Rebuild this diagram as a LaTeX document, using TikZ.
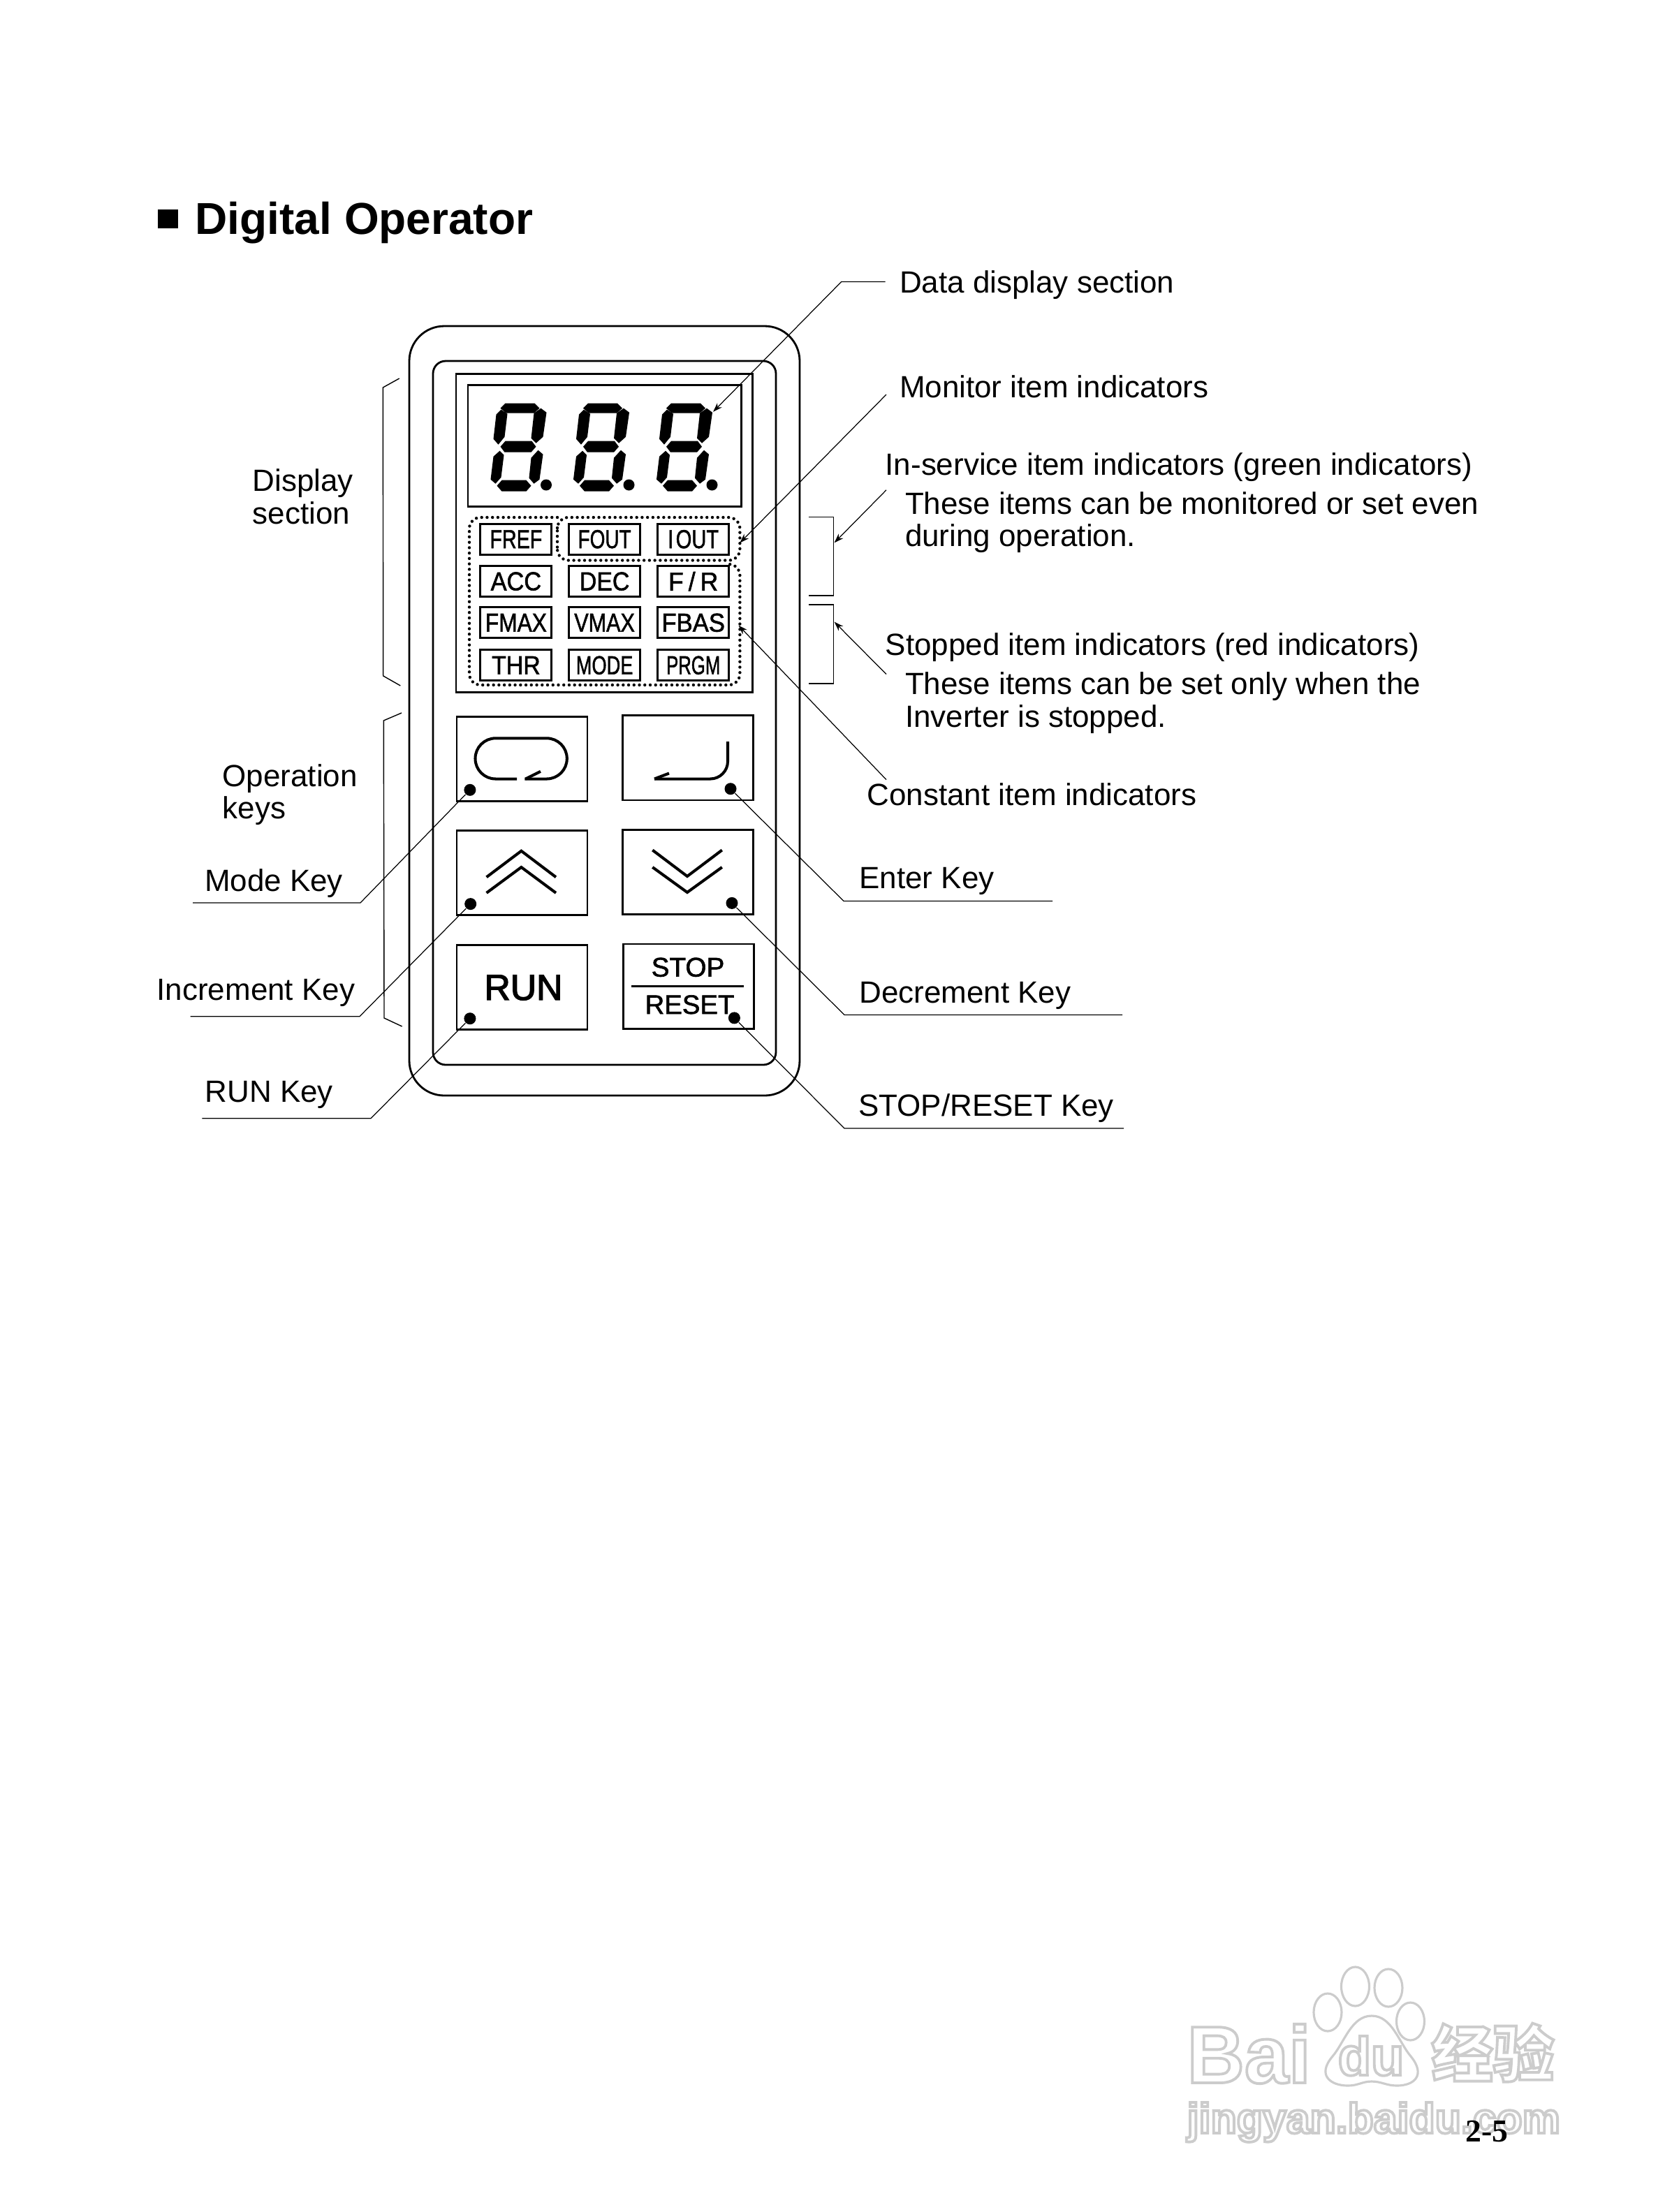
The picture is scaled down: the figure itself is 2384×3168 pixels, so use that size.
\documentclass[tikz,border=0pt]{standalone}
\usepackage{fontspec}
\usepackage{graphicx}
\usetikzlibrary{arrows.meta}
\setmainfont{Liberation Sans}
\newfontfamily\pagefont{Liberation Serif}
\newfontfamily\cjkfont{Noto Sans CJK SC}
\newfontfamily\keyfont[FakeBold=1.6]{Liberation Sans}
\newfontfamily\runfont[FakeBold=2.6]{Liberation Sans}
\newcommand{\narrow}[2]{\scalebox{#1}[1]{#2}}
\newcommand{\hollow}[1]{\special{pdf:code 1 Tr 0.8 G 1.1 w}#1\special{pdf:code 0 Tr 0 G 1 w}}
\tikzset{
	lbl/.style={anchor=base west,inner sep=0pt,align=left,xshift=-.02cm,font=\fontsize{12.5}{13.2}\selectfont},
	leader/.style={line width=.35pt},
	bracket/.style={line width=.4pt},
	body/.style={line width=.8pt},
	indbox/.style={draw,line width=.85pt,inner sep=0pt,minimum width=1.02cm,minimum height=.44cm,font=\keyfont\fontsize{10.6}{11}\selectfont},
	indzone/.style={line width=1.25pt,line cap=round,dash pattern=on 0pt off 2.2pt},
	keybox/.style={draw,line width=.8pt,inner sep=0pt,minimum width=1.87cm,minimum height=1.21cm},
	keydot/.style={circle,fill,inner sep=0pt,minimum size=.17cm},
	keymark/.style={line width=1.15pt},
	wmtext/.style={inner sep=0pt,anchor=base west},
	wmpaw/.style={draw=black!20,line width=.9pt},
}
\begin{document}
\begin{tikzpicture}[x=.01cm,y=-.01cm,>={Stealth[length=3.8pt,width=2.6pt]}]
	\useasboundingbox(0,0)rectangle(2384,3168);
	\fill[white](0,0)rectangle(2384,3168);
	\node[wmtext,font=\bfseries\fontsize{33}{33}\selectfont](wmbai)at(1699,2983){\hollow{\narrow{.98}{Bai}}};
	\draw[wmpaw](1901,2882)ellipse[x radius=20,y radius=27];
	\draw[wmpaw](1940.5,2845)ellipse[x radius=20,y radius=28];
	\draw[wmpaw](1988,2847)ellipse[x radius=20,y radius=27];
	\draw[wmpaw](2019.5,2895)ellipse[x radius=20,y radius=27];
	\draw[wmpaw](1964,2887)..controls(1935,2887)and(1925,2925)..(1908,2945)..controls(1885,2972)and(1905,2987)..(1930,2987)..controls(1945,2987)and(1950,2981)..(1964,2981)..controls(1978,2981)and(1985,2987)..(2000,2987)..controls(2025,2987)and(2042,2972)..(2020,2945)..controls(2003,2925)and(1993,2887)..(1964,2887);
	\node[wmtext,font=\bfseries\fontsize{22}{22}\selectfont](wmdu)at(1915,2972){\hollow{du}};
	\node[wmtext,font=\cjkfont\bfseries\fontsize{25}{25}\selectfont](wmcn)at(2049,2974){\hollow{经验}};
	\node[wmtext,font=\bfseries\fontsize{17.3}{18}\selectfont](wmurl)at(1699,3055){\hollow{jingyan.baidu.com}};
	\node[anchor=base west,inner sep=0pt,font=\pagefont\bfseries\fontsize{13}{14}\selectfont](pagenum)at(2098,3067){2-5};
	\fill(226,300)rectangle(255,327);
	\node[anchor=base west,inner sep=0pt,font=\bfseries\fontsize{18.2}{19}\selectfont](title)at(279,335.5){Digital Operator};
	\draw[body,rounded corners=5mm](586,467)rectangle(1145,1569);
	\draw[body,rounded corners=1.8mm](620,517)rectangle(1111,1525);
	\draw[line width=.85pt](653,535.4)rectangle(1077,991);
	\draw[line width=.85pt](670,551.7)rectangle(1061,725);
	\foreach \digitx in {703.5,822,941}{
		\begin{scope}[shift={(\digitx,578.7)}]
			\fill(13,6)--(20,-1)--(62,-1)--(69,6)--(61,13)--(21,13)--cycle;
			\fill(13,61)--(20,53)--(58,53)--(64,61)--(57,69)--(19,69)--cycle;
			\fill(8,117)--(15,109)--(50,109)--(57,117)--(50,125)--(15,125)--cycle;
			\fill(14,8)--(23,14)--(19,47)--(10,58)--(3,50)--(7,15)--cycle;
			\fill(71,6)--(79,12)--(74,47)--(64,56)--(57,49)--(61,13)--cycle;
			\fill(12,67)--(18,73)--(14,105)--(6,114)--(-1,108)--(3,75)--cycle;
			\fill(67,66)--(74,72)--(69,108)--(61,114)--(54,106)--(57,77)--cycle;
			\fill(78.5,115.8)circle(8);
		\end{scope}
	}
	\node[indbox](fref)at(738.9,772.2){\narrow{.77}{FREF}};
	\node[indbox](fout)at(865.6,772.2){\narrow{.75}{FOUT}};
	\node[indbox](iout)at(992.7,772.2){\narrow{.78}{I\kern.12em OUT}};
	\node[indbox](acc)at(738.9,832.6){\narrow{.92}{ACC}};
	\node[indbox](dec)at(865.6,832.6){\narrow{.91}{DEC}};
	\node[indbox](fr)at(992.7,832.6){\narrow{.95}{F\kern.2em/\kern.2em R}};
	\node[indbox](fmax)at(738.9,891.8){\narrow{.85}{FMAX}};
	\node[indbox](vmax)at(865.6,891.8){\narrow{.82}{VMAX}};
	\node[indbox](fbas)at(992.7,891.8){\narrow{.93}{FBAS}};
	\node[indbox](thr)at(738.9,952.8){\narrow{.91}{THR}};
	\node[indbox](modeind)at(865.6,952.8){\narrow{.73}{MODE}};
	\node[indbox](prgm)at(992.7,952.8){\narrow{.69}{PRGM}};
	\draw[indzone,rounded corners=1.6mm](798,772)--(798,741)--(1059.4,741)--(1059.4,802.5)--(798,802.5)--cycle;
	\draw[indzone,rounded corners=1.6mm](798,741)--(672,741)--(672,981)--(1059.4,981)--(1059.4,808)--(1040,808);
	\node[keybox](modekey)at(747.5,1086.8){};
	\node[keybox](enterkey)at(985.2,1085.4){};
	\node[keybox](upkey)at(747.5,1250){};
	\node[keybox](downkey)at(985.2,1249){};
	\node[keybox](runkey)at(747.5,1414.2){};
	\node[keybox](stopkey)at(986.3,1412.6){};
	\node[keydot](modedot)at(672.9,1131.3){};
	\node[keydot](enterdot)at(1046,1129.7){};
	\node[keydot](updot)at(673.7,1294.6){};
	\node[keydot](downdot)at(1048,1293.4){};
	\node[keydot](rundot)at(672.9,1458.7){};
	\node[keydot](stopdot)at(1051.4,1457.9){};
	\draw[keymark,rounded corners=2.9mm](740,1115.5)--(680.5,1115.5)--(680.5,1057.3)--(811.8,1057.3)--(811.8,1115.5)--(751.4,1115.5);
	\draw[keymark](774,1104.8)--(752.5,1115.5);
	\draw[keymark,rounded corners=2.5mm](1042,1062)--(1042,1115.5)--(937,1115.5);
	\draw[keymark](958,1107.5)--(937,1115.5);
	\draw[keymark](696.6,1256.2)--(746.4,1218.7)--(796,1256.2);
	\draw[keymark](696.6,1278.8)--(746.4,1242)--(796,1278.8);
	\draw[keymark](934.3,1217.5)--(984,1255)--(1033.8,1217.5);
	\draw[keymark](934.3,1242)--(984,1278)--(1033.8,1242);
	\node[inner sep=0pt,anchor=base,font=\runfont\fontsize{14.7}{15}\selectfont](runtext)at(749.5,1432){RUN};
	\node[inner sep=0pt,anchor=base,font=\keyfont\fontsize{11}{12}\selectfont](stoptext)at(985,1398.6){STOP};
	\node[inner sep=0pt,anchor=base,font=\keyfont\fontsize{10.9}{12}\selectfont](resettext)at(987.5,1452){RESET};
	\draw[line width=.85pt](904.4,1412)--(1065,1412);
	\draw[bracket](571.7,542)--(548.3,555)--(548.7,968)--(573.3,982);
	\draw[bracket](575,1021)--(549.3,1032)--(550,1458)--(575.7,1470);
	\draw[bracket](1157.5,740.6)--(1193.3,740.6)--(1193.3,852.9)--(1157.5,852.9);
	\draw[bracket](1157.5,866)--(1193.3,866)--(1193.3,979)--(1157.5,979);
	\node[lbl](display)at(363,750){Display\\section};
	\node[lbl](operation)at(320,1172.6){Operation\\keys};
	\node[lbl](modelbl)at(294.3,1276){Mode Key};
	\node[lbl](uplbl)at(226,1432.5){Increment Key};
	\node[lbl](runlbl)at(295,1578.5){RUN Key};
	\node[lbl](datalbl)at(1289.3,419.7){Data display section};
	\node[lbl](monlbl)at(1289.3,569){Monitor item indicators};
	\node[lbl](inslbl)at(1269,680){In-service item indicators (green indicators)};
	\node[lbl](insnote)at(1297.4,782.5){These items can be monitored or set even\\during operation.};
	\node[lbl](stoplbl)at(1269,938){Stopped item indicators (red indicators)};
	\node[lbl](stopnote)at(1297.4,1041){These items can be set only when the\\Inverter is stopped.};
	\node[lbl](conlbl)at(1243,1153){Constant item indicators};
	\node[lbl](enterlbl)at(1231.8,1272){Enter Key};
	\node[lbl](downlbl)at(1231.8,1436.3){Decrement Key};
	\node[lbl](resetlbl)at(1230.5,1598.4){STOP/RESET Key};
	\coordinate(modeend)at(276,1293);
	\coordinate(modebend)at(516,1293);
	\coordinate(upend)at(272.7,1455.7);
	\coordinate(upbend)at(515,1455.7);
	\coordinate(runend)at(289.3,1601.8);
	\coordinate(runbend)at(531,1601.8);
	\coordinate(enterend)at(1507,1290.5);
	\coordinate(enterbend)at(1208,1290.5);
	\coordinate(downend)at(1607,1453.5);
	\coordinate(downbend)at(1209,1453.5);
	\coordinate(stopend)at(1609,1616);
	\coordinate(stopbend)at(1209,1616);
	\coordinate(dataend)at(1267.6,403.4);
	\coordinate(databend)at(1204.8,403.4);
	\coordinate(datatip)at(1021,589.8);
	\coordinate(monstart)at(1269,565);
	\coordinate(montip)at(1059.4,777.4);
	\coordinate(insstart)at(1269,701.8);
	\coordinate(instip)at(1194.6,777.3);
	\coordinate(stopstart)at(1269,965.6);
	\coordinate(stoptip)at(1194.6,890.6);
	\coordinate(constart)at(1269,1116.6);
	\coordinate(contip)at(1057.5,895.7);
	\draw[leader](modeend)--(modebend)--(modedot);
	\draw[leader](upend)--(upbend)--(updot);
	\draw[leader](runend)--(runbend)--(rundot);
	\draw[leader](enterend)--(enterbend)--(enterdot);
	\draw[leader](downend)--(downbend)--(downdot);
	\draw[leader](stopend)--(stopbend)--(stopdot);
	\draw[leader,->](dataend)--(databend)--(datatip);
	\draw[leader,->](monstart)--(montip);
	\draw[leader,->](insstart)--(instip);
	\draw[leader,->](stopstart)--(stoptip);
	\draw[leader,->](constart)--(contip);
\end{tikzpicture}
\end{document}
